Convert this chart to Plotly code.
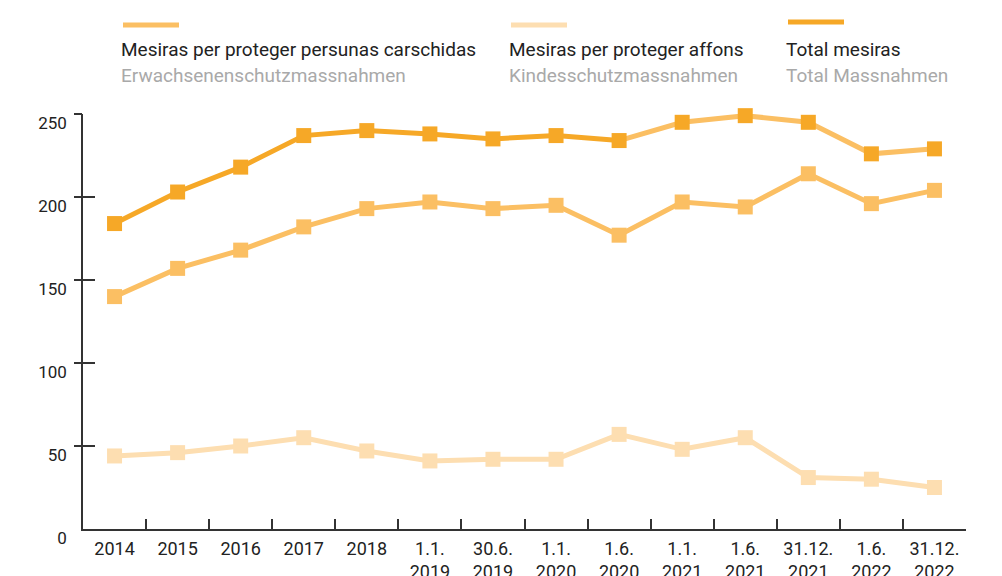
import plotly.graph_objects as go

categories = ["2014", "2015", "2016", "2017", "2018", "1.1.<br>2019", "30.6.<br>2019",
              "1.1.<br>2020", "1.6.<br>2020", "1.1.<br>2021", "1.6.<br>2021",
              "31.12.<br>2021", "1.6.<br>2022", "31.12.<br>2022"]
adults = [140, 157, 168, 182, 193, 197, 193, 195, 177, 197, 194, 214, 196, 204]
children = [44, 46, 50, 55, 47, 41, 42, 42, 57, 48, 55, 31, 30, 25]
total = [184, 203, 218, 237, 240, 238, 235, 237, 234, 245, 249, 245, 226, 229]
y_ticks = [0, 50, 100, 150, 200, 250]

legend_main = ["Mesiras per proteger persunas carschidas", "Mesiras per proteger affons", "Total mesiras"]
legend_sub = ["Erwachsenenschutzmassnahmen", "Kindesschutzmassnahmen", "Total Massnahmen"]

C_TOTAL = "#F6A827"
C_ADULT = "#FBBF63"
C_CHILD = "#FDDEB1"
FONT = "Roboto"

OFF = 8  # page body margin
W, H = 1002 - OFF, 576 - OFF
ML, MR, MT, MB = 83 - OFF, 36, 114 - OFF, 47
PW, PH = W - ML - MR, H - MT - MB


def px_x(p):
    return (p - OFF - ML) / PW


def px_y(p):
    return (H - MB - (p - OFF)) / PH


fig = go.Figure()

msize = 15
lw = 5

fig.add_trace(go.Scatter(x=categories, y=children, mode="lines+markers",
                         line=dict(color=C_CHILD, width=lw),
                         marker=dict(symbol="square", size=msize, color=C_CHILD),
                         cliponaxis=False, showlegend=False))
fig.add_trace(go.Scatter(x=categories, y=adults, mode="lines+markers",
                         line=dict(color=C_ADULT, width=lw),
                         marker=dict(symbol="square", size=msize, color=C_ADULT),
                         cliponaxis=False, showlegend=False))
# total line: darker up to 1.6.2020, lighter afterwards
split = 8
fig.add_trace(go.Scatter(x=categories[:split + 1], y=total[:split + 1], mode="lines",
                         line=dict(color=C_TOTAL, width=lw),
                         cliponaxis=False, showlegend=False))
fig.add_trace(go.Scatter(x=categories[split:], y=total[split:], mode="lines",
                         line=dict(color=C_ADULT, width=lw),
                         cliponaxis=False, showlegend=False))
fig.add_trace(go.Scatter(x=categories, y=total, mode="markers",
                         marker=dict(symbol="square", size=msize, color=C_TOTAL),
                         cliponaxis=False, showlegend=False))

# secondary axis only for the outer y ticks
fig.add_trace(go.Scatter(x=[categories[0]], y=[0], yaxis="y2", mode="markers",
                         marker=dict(opacity=0), showlegend=False, hoverinfo="skip"))

axis_color = "#333333"
fig.update_layout(
    width=W, height=H,
    margin=dict(l=ML, r=MR, t=MT, b=MB, autoexpand=False),
    paper_bgcolor="white", plot_bgcolor="white",
    font=dict(family=FONT, color="#222222"),
    xaxis=dict(type="category", categoryorder="array", categoryarray=categories,
               range=[-0.5, len(categories) - 0.5], automargin=False,
               showline=True, linecolor=axis_color, linewidth=2,
               ticks="inside", tickson="boundaries", ticklen=10, tickwidth=1.5,
               tickcolor=axis_color, showgrid=False, zeroline=False,
               tickfont=dict(family=FONT, size=18, color="#222222"),
               ticklabelstandoff=2),
    yaxis=dict(range=[0, 250], tickvals=y_ticks, ticktext=[str(v) for v in y_ticks],
               automargin=False,
               showline=True, linecolor=axis_color, linewidth=1.5,
               ticks="inside", ticklen=12, tickwidth=1.5, tickcolor=axis_color,
               showgrid=False, zeroline=False,
               tickfont=dict(family=FONT, size=17, color="#222222"),
               ticklabelstandoff=11, ticklabelshift=9),
    yaxis2=dict(range=[0, 250], overlaying="y", side="left", tickvals=y_ticks[1:],
                automargin=False,
                showticklabels=False, showline=False, ticks="outside", ticklen=8,
                tickwidth=1.5, tickcolor=axis_color, showgrid=False, zeroline=False),
)

# legend: swatches and two-line labels
leg_x = [121, 509, 786]
leg_sw_y = [25, 25, 22]
leg_colors = [C_ADULT, C_CHILD, C_TOTAL]
for i in range(3):
    fig.add_shape(type="line", xref="paper", yref="paper",
                  x0=px_x(leg_x[i] + 2), x1=px_x(leg_x[i] + 58),
                  y0=px_y(leg_sw_y[i]), y1=px_y(leg_sw_y[i]),
                  line=dict(color=leg_colors[i], width=5))
    fig.add_annotation(text=legend_main[i], xref="paper", yref="paper",
                       x=px_x(leg_x[i] - 2), y=px_y(49), xanchor="left", yanchor="middle",
                       showarrow=False, font=dict(family=FONT, size=19, color="#222222"))
    fig.add_annotation(text=legend_sub[i], xref="paper", yref="paper",
                       x=px_x(leg_x[i] - 2), y=px_y(75), xanchor="left", yanchor="middle",
                       showarrow=False, font=dict(family=FONT, size=19, color="#A9A9A9"))

fig.write_html("out.html")
